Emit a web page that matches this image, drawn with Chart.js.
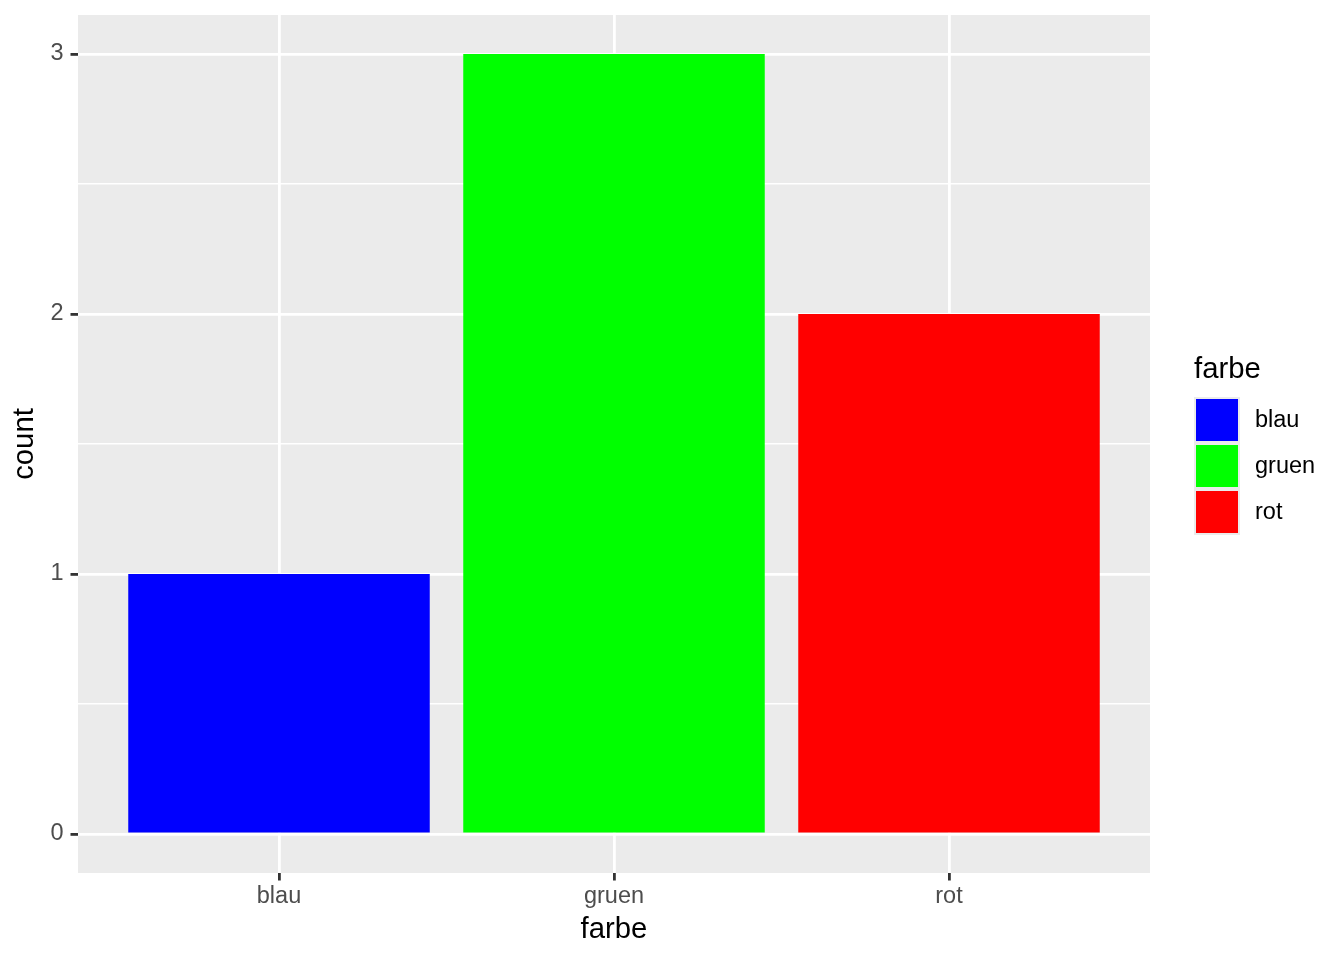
<!DOCTYPE html>
<html>
<head>
<meta charset="utf-8">
<script src="https://cdn.jsdelivr.net/npm/chart.js@4.4.0/dist/chart.umd.min.js"></script>
<style>
  html, body { margin: 0; padding: 0; background: #fff; }
  #wrap { width: 1344px; height: 960px; }
</style>
</head>
<body>
<div id="wrap"><canvas id="barChart" width="1344" height="960"></canvas></div>
<script>
// Data
const categories = ['blau', 'gruen', 'rot'];
const counts = [1, 3, 2];
const barColors = ['#0000FF', '#00FF00', '#FF0000'];
const yMajorTicks = [0, 1, 2, 3];
const yMinorTicks = [0.5, 1.5, 2.5];

const FONT = "'Liberation Sans', Arial, Helvetica, sans-serif";

// Panel background (ggplot grey92)
const panelBackground = {
    id: 'panelBackground',
    beforeDraw(chart) {
        const { ctx, chartArea: a } = chart;
        ctx.save();
        ctx.fillStyle = '#EBEBEB';
        ctx.fillRect(a.left, a.top, a.right - a.left, a.bottom - a.top);
        ctx.restore();
    }
};

// Legend on the right, ggplot style
const sideLegend = {
    id: 'sideLegend',
    afterDraw(chart) {
        const ctx = chart.ctx;
        const x0 = 1194, y0 = 397, key = 46;
        ctx.save();
        ctx.fillStyle = '#000';
        ctx.font = '29.3px ' + FONT;
        ctx.textBaseline = 'alphabetic';
        ctx.textAlign = 'left';
        ctx.fillText('farbe', x0, 378);

        ctx.fillStyle = '#EBEBEB';
        ctx.fillRect(x0, y0, key, key * categories.length);
        ctx.font = '23.5px ' + FONT;
        ctx.textBaseline = 'middle';
        categories.forEach((c, i) => {
            ctx.fillStyle = barColors[i];
            ctx.fillRect(x0 + 2, y0 + i * key + 2, key - 4, key - 4);
            ctx.fillStyle = '#000';
            ctx.fillText(c, 1255, y0 + i * key + key / 2 + 1);
        });
        ctx.restore();
    }
};

const ctx = document.getElementById('barChart').getContext('2d');
new Chart(ctx, {
    type: 'bar',
    data: {
        datasets: [{
            label: 'farbe',
            data: categories.map((c, i) => ({ x: i + 1, y: counts[i] })),
            backgroundColor: barColors,
            borderWidth: 0,
            categoryPercentage: 0.9,
            barPercentage: 1.0
        }]
    },
    options: {
        responsive: false,
        animation: false,
        devicePixelRatio: 1,
        layout: { padding: { top: 15, right: 194, left: 0, bottom: 0 } },
        plugins: {
            legend: { display: false },
            tooltip: { enabled: false }
        },
        scales: {
            x: {
                type: 'linear',
                min: 0.4,
                max: 3.6,
                offset: false,
                afterBuildTicks: s => { s.ticks = categories.map((c, i) => ({ value: i + 1 })); },
                afterFit: s => { s.height = 87; s.paddingLeft = 0; s.paddingRight = 0; },
                ticks: {
                    callback: v => categories[v - 1],
                    color: '#4D4D4D',
                    font: { family: FONT, size: 23.5, lineHeight: 1.2 },
                    padding: 2,
                    maxRotation: 0,
                    autoSkip: false
                },
                grid: {
                    offset: false,
                    color: '#FFFFFF',
                    lineWidth: 2.8,
                    tickLength: 7.5,
                    tickColor: '#333333',
                    tickWidth: 2.8
                },
                border: { display: false },
                title: {
                    display: true,
                    text: 'farbe',
                    color: '#000',
                    font: { family: FONT, size: 29.3, lineHeight: 1.2 },
                    padding: { top: 0, bottom: 13 }
                }
            },
            y: {
                type: 'linear',
                min: -0.15,
                max: 3.15,
                afterBuildTicks: s => {
                    s.ticks = yMajorTicks.concat(yMinorTicks).sort((a, b) => a - b).map(v => ({ value: v }));
                },
                afterFit: s => { s.width = 78; s.paddingTop = 0; s.paddingBottom = 0; },
                ticks: {
                    callback: v => (yMajorTicks.includes(v) ? String(v) : ''),
                    color: '#4D4D4D',
                    font: { family: FONT, size: 23.5, lineHeight: 1.2 },
                    padding: 7,
                    autoSkip: false
                },
                grid: {
                    color: '#FFFFFF',
                    lineWidth: c => (yMajorTicks.includes(c.tick.value) ? 2.8 : 1.4),
                    tickLength: 7.5,
                    tickColor: c => (yMajorTicks.includes(c.tick.value) ? '#333333' : 'rgba(0,0,0,0)'),
                    tickWidth: 2.8
                },
                border: { display: false },
                title: {
                    display: true,
                    text: 'count',
                    color: '#000',
                    font: { family: FONT, size: 29.3, lineHeight: 1.2 },
                    padding: { top: 7.5, bottom: 0 }
                }
            }
        }
    },
    plugins: [panelBackground, sideLegend]
});
</script>
</body>
</html>
